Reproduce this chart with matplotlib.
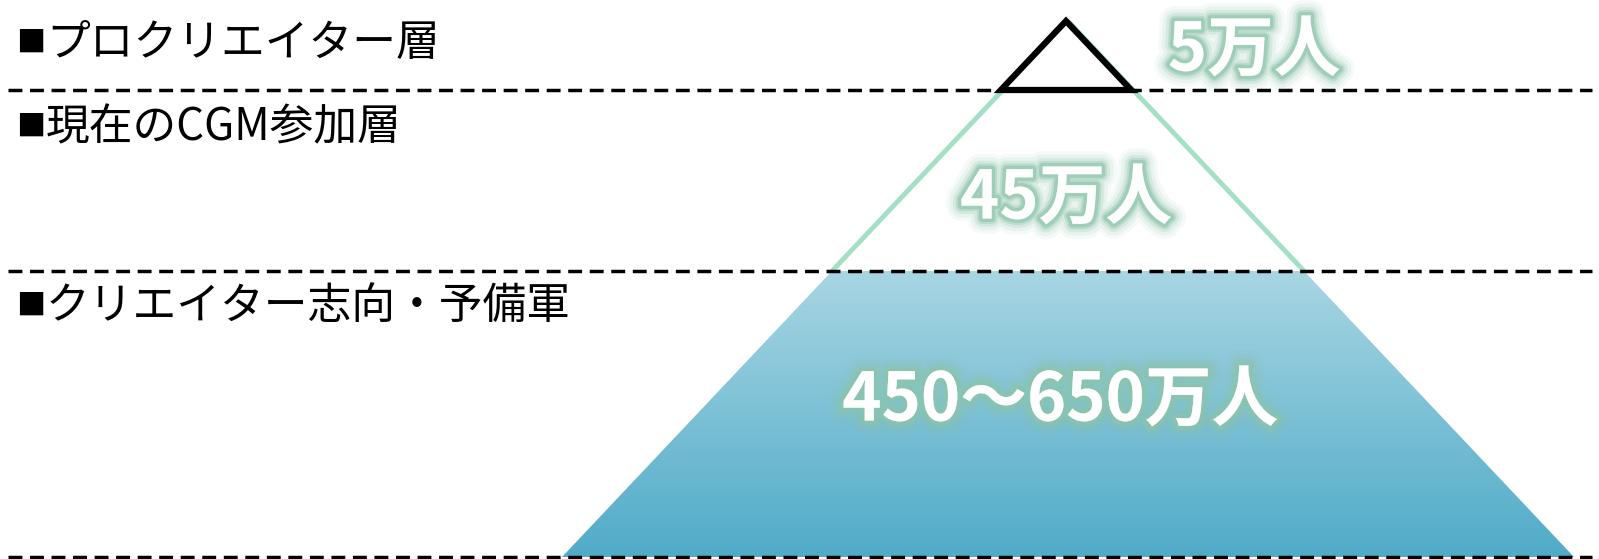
import numpy as np
import matplotlib.pyplot as plt
import matplotlib.patheffects as pe
from matplotlib.patches import Polygon

plt.rcParams['font.family'] = ['Noto Sans CJK JP', 'DejaVu Sans']

# tiers, top to bottom
tier_labels = ['プロクリエイター層', '現在のCGM参加層', 'クリエイター志向・予備軍']
tier_values = ['5万人', '45万人', '450〜650万人']
# tier boundaries (pixel rows in the picture)
bounds = [21, 90, 271, 557]
label_y = [43, 127, 306]
value_pos = [(1254, 51), (1066, 199), (1060, 401)]

W, H = 1599, 559
apex_x = 1068
half_base = 506  # half width of pyramid at the bottom boundary

fig = plt.figure(figsize=(W / 100, H / 100), dpi=100)
ax = fig.add_axes([0, 0, 1, 1])
ax.set_xlim(0, W)
ax.set_ylim(H, 0)
ax.axis('off')


def half_w(y):
    return half_base * (y - bounds[0]) / (bounds[-1] - bounds[0])


# gradient-filled base tier
y0, y1 = bounds[2], bounds[3]
trap = Polygon([(apex_x - half_w(y0), y0), (apex_x + half_w(y0), y0),
                (apex_x + half_w(y1), y1), (apex_x - half_w(y1), y1)],
               closed=True, facecolor='none', edgecolor='none')
ax.add_patch(trap)
top_c = np.array([168, 214, 227]) / 255
bot_c = np.array([80, 171, 200]) / 255
t = np.linspace(0, 1, 256)[:, None, None]
grad = top_c * (1 - t) + bot_c * t
grad = np.repeat(grad, 2, axis=1)
im = ax.imshow(grad, extent=[apex_x - half_w(y1), apex_x + half_w(y1), y1, y0],
               aspect='auto', zorder=1, interpolation='bilinear')
im.set_clip_path(trap)

# green outline of middle tier
green = '#a3e0c5'
for s in (-1, 1):
    ax.plot([apex_x, apex_x + s * half_w(bounds[2])], [bounds[0], bounds[2]],
            color=green, lw=3.5, zorder=2, solid_capstyle='butt')

# black top triangle
ax.add_patch(Polygon([(apex_x - 2, bounds[0]), (apex_x - 2 + half_w(bounds[1]), bounds[1]),
                      (apex_x - 2 - half_w(bounds[1]), bounds[1])],
                     closed=True, facecolor='white', edgecolor='black', lw=4.5,
                     joinstyle='miter', zorder=3))

# dashed tier lines
for y in bounds[1:]:
    ax.plot([8, 1592], [y, y], color='black', lw=2.5, ls=(0, (4, 2.2)), zorder=4)

# tier labels: small square bullet + text
for lab, y in zip(tier_labels, label_y):
    ax.text(16, y + 1, '■', fontsize=21, va='center', ha='left', color='black', zorder=5)
    ax.text(46, y, lab, fontsize=31.5, va='center', ha='left', color='black', zorder=5)

# value labels with glow
glow = '#8cc4aa'
effects = [pe.withStroke(linewidth=w, foreground=glow, alpha=a)
           for w, a in ((22, 0.08), (17, 0.12), (12, 0.2), (8, 0.35), (5, 0.6))]
for txt, (x, y) in zip(tier_values, value_pos):
    ax.text(x, y, txt, fontsize=48, fontweight='bold', color='white',
            ha='center', va='center', zorder=6, path_effects=effects)

fig.savefig('out.png', dpi=100)
